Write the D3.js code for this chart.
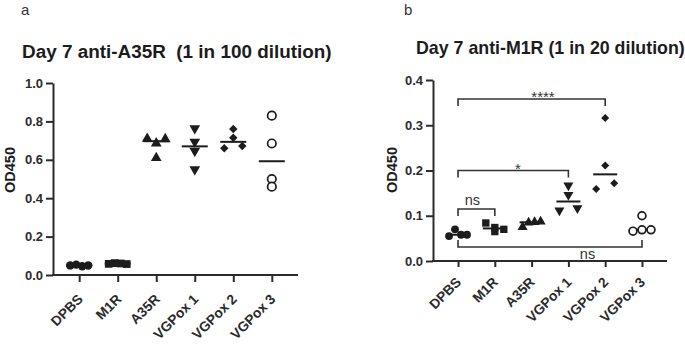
<!DOCTYPE html>
<html>
<head>
<meta charset="utf-8">
<script src="https://cdn.jsdelivr.net/npm/d3@7"></script>
<style>
  body { margin: 0; background: #fff; }
  svg { display: block; font-family: "Liberation Sans", Arial, Helvetica, sans-serif; }
  .axis path, .axis line { stroke: #2b2b2b; stroke-width: 2px; }
  .axis text { fill: #2b2b2b; font-weight: bold; font-size: 13px; }
  .axis.x text { font-size: 13.8px; }
</style>
</head>
<body>
<svg id="chart" width="685" height="345"></svg>
<script>
(function () {
  "use strict";

  // groups and marker shapes
  const groups = ["DPBS", "M1R", "A35R", "VGPox 1", "VGPox 2", "VGPox 3"];
  const shapes = ["circle", "square", "triangle", "triangleDown", "diamond", "circleOpen"];

  // panel a : Day 7 anti-A35R, OD450 per mouse
  const a35rValues = [
    [0.050, 0.054, 0.046, 0.049],
    [0.058, 0.062, 0.060, 0.057],
    [0.71, 0.686, 0.708, 0.61],
    [0.764, 0.694, 0.646, 0.55],
    [0.76, 0.715, 0.66, 0.672],
    [0.83, 0.685, 0.50, 0.46]
  ];
  const a35rTicks = [0, 0.2, 0.4, 0.6, 0.8, 1.0];

  // panel b : Day 7 anti-M1R, OD450 per mouse
  const m1rValues = [
    [0.055, 0.07, 0.058, 0.058],
    [0.084, 0.065, 0.074, 0.070],
    [0.075, 0.085, 0.086, 0.087],
    [0.167, 0.146, 0.112, 0.117],
    [0.316, 0.211, 0.159, 0.172],
    [0.100, 0.066, 0.069, 0.069]
  ];
  const m1rTicks = [0, 0.1, 0.2, 0.3, 0.4];

  // significance brackets (from/to group index, height in OD, label, label position in group index units)
  const m1rBrackets = [
    { from: 0, to: 4, y: 0.358, label: "****", at: 2.31, below: false },
    { from: 0, to: 3, y: 0.200, label: "*", at: 1.63, below: false },
    { from: 0, to: 1, y: 0.115, label: "ns", at: 0.39, below: false },
    { from: 0, to: 5, y: 0.031, label: "ns", at: 3.52, below: true }
  ];

  const svg = d3.select("#chart");
  const ink = "#1c1c1c";

  function symbolPath(shape, s) {
    if (shape === "circle" || shape === "circleOpen") return d3.symbol(d3.symbolCircle, s.circle)();
    if (shape === "square" || shape === "diamond") return d3.symbol(d3.symbolSquare, shape === "diamond" ? s.diamond : s.square)();
    return d3.symbol(d3.symbolTriangle, s.triangle)();
  }

  function symbolRotate(shape) {
    if (shape === "triangleDown") return 180;
    if (shape === "diamond") return 45;
    return 0;
  }

  // GraphPad-like row spreading: points within rowGap px share a row and get spread across the column
  function spread(vals, y, rowGap, halfWidth) {
    const pts = vals.map((v, i) => ({ v, i, py: y(v), dx: 0 }));
    const sorted = pts.slice().sort((p, q) => p.py - q.py);
    const rows = [];
    sorted.forEach((p) => {
      const row = rows[rows.length - 1];
      if (row && p.py - row[0].py < rowGap) row.push(p);
      else rows.push([p]);
    });
    rows.forEach((row) => {
      if (row.length < 2) return;
      row.sort((p, q) => p.i - q.i);
      row.forEach((p, k) => { p.dx = -halfWidth + (2 * halfWidth * k) / (row.length - 1); });
    });
    return pts;
  }

  function drawPanel(cfg) {
    const g = svg.append("g");

    const x = d3.scalePoint().domain(groups).range([cfg.left, cfg.right]).padding(0.68);
    const y = d3.scaleLinear().domain([0, cfg.max]).range([cfg.bottom, cfg.top]);

    // axes
    g.append("g").attr("class", "axis y")
      .attr("transform", `translate(${cfg.left},0)`)
      .call(d3.axisLeft(y).tickValues(cfg.ticks).tickFormat(d3.format(".1f")).tickSize(7).tickSizeOuter(0).tickPadding(3));

    const xAxis = g.append("g").attr("class", "axis x")
      .attr("transform", `translate(0,${cfg.bottom})`)
      .call(d3.axisBottom(x).tickSize(cfg.xTick).tickSizeOuter(0));
    xAxis.select(".domain").attr("d", `M${cfg.left - 1},0H${cfg.right}`);
    xAxis.selectAll("text")
      .attr("x", 0).attr("y", 0).attr("dy", 0)
      .attr("transform", `translate(${cfg.labelDx},${cfg.labelDy}) rotate(-45)`)
      .style("text-anchor", "end");

    // y title
    g.append("text")
      .attr("transform", `translate(${cfg.yTitleX},${cfg.yTitleY}) rotate(-90)`)
      .attr("text-anchor", "middle")
      .attr("dy", "0.35em")
      .attr("font-weight", "bold").attr("font-size", 14.5).attr("fill", ink)
      .text("OD450");

    // chart title and panel letter
    g.append("text").attr("x", cfg.titleX).attr("y", cfg.titleY)
      .attr("font-weight", "bold").attr("font-size", cfg.titleSize).attr("fill", ink)
      .style("white-space", "pre")
      .text(cfg.title);
    g.append("text").attr("x", cfg.letterX).attr("y", 15)
      .attr("font-size", 15).attr("fill", "#333")
      .text(cfg.letter);

    // brackets
    (cfg.brackets || []).forEach((b) => {
      const x0 = x(groups[b.from]), x1 = x(groups[b.to]), yy = y(b.y);
      const tick = b.below ? -7 : 7;
      g.append("path")
        .attr("d", `M${x0},${yy + tick}V${yy}H${x1}V${yy + tick}`)
        .attr("fill", "none").attr("stroke", "#333").attr("stroke-width", 1.6);
      const lx = x(groups[0]) + b.at * x.step();
      const isStar = b.label.indexOf("*") === 0;
      g.append("text")
        .attr("x", lx)
        .attr("y", b.below ? yy + 12 : (isStar ? yy + 3 : yy - 4))
        .attr("text-anchor", "middle")
        .attr("font-size", isStar ? 15 : 14.5)
        .attr("fill", "#333")
        .text(b.label);
    });

    // points and median lines
    cfg.values.forEach((vals, gi) => {
      const cx = x(groups[gi]);
      const shape = shapes[gi];
      const med = d3.median(vals);

      g.append("line")
        .attr("x1", cx - cfg.medW / 2).attr("x2", cx + cfg.medW / 2)
        .attr("y1", y(med)).attr("y2", y(med))
        .attr("stroke", ink).attr("stroke-width", 2);

      const pts = spread(vals, y, cfg.rowGap, cfg.halfWidth);
      g.append("g").selectAll("path")
        .data(pts)
        .join("path")
        .attr("d", symbolPath(shape, cfg.sizes))
        .attr("transform", (p) => `translate(${cx + p.dx},${p.py}) rotate(${symbolRotate(shape)})`)
        .attr("fill", shape === "circleOpen" ? "#fff" : ink)
        .attr("stroke", shape === "circleOpen" ? ink : "none")
        .attr("stroke-width", 1.7);
    });
  }

  drawPanel({
    values: a35rValues, ticks: a35rTicks, max: 1.0,
    left: 53, right: 298, top: 83, bottom: 275,
    xTick: 7, labelDx: 4, labelDy: 25,
    yTitleX: 10, yTitleY: 170,
    title: "Day 7 anti-A35R  (1 in 100 dilution)", titleX: 22, titleY: 58, titleSize: 18.9,
    letter: "a", letterX: 21,
    medW: 26, rowGap: 7, halfWidth: 9,
    sizes: { circle: 56, square: 60, triangle: 50, diamond: 36 }
  });

  drawPanel({
    values: m1rValues, ticks: m1rTicks, max: 0.4, brackets: m1rBrackets,
    left: 433, right: 667, top: 80, bottom: 261,
    xTick: 6, labelDx: 3.5, labelDy: 22,
    yTitleX: 392, yTitleY: 170,
    title: "Day 7 anti-M1R (1 in 20 dilution)", titleX: 416, titleY: 54, titleSize: 17.8,
    letter: "b", letterX: 404,
    medW: 24, rowGap: 7, halfWidth: 9,
    sizes: { circle: 48, square: 54, triangle: 44, diamond: 32 }
  });
})();
</script>
</body>
</html>
